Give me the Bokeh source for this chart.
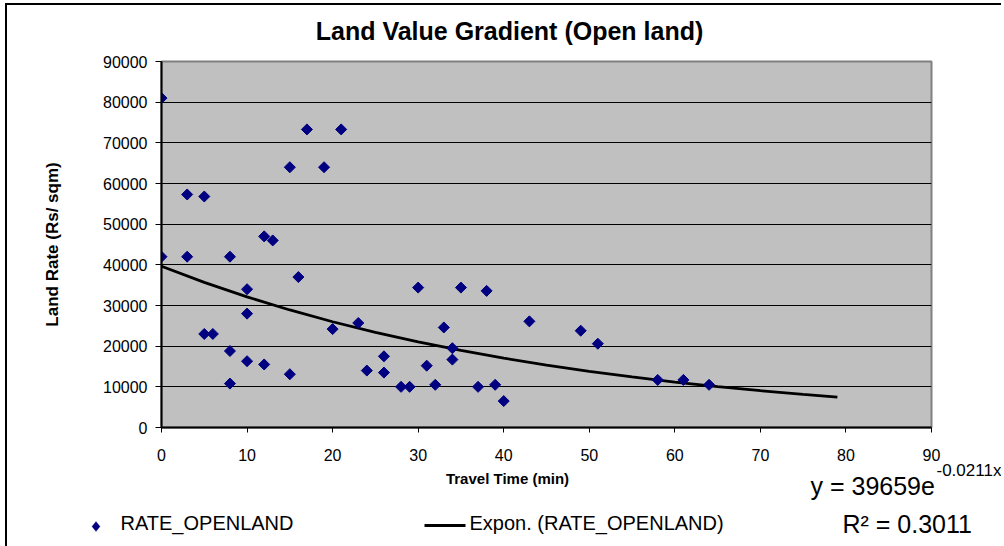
from bokeh.plotting import figure
from bokeh.models import (Range1d, FixedTicker, Grid, Label, BoxAnnotation, PolyAnnotation)
from bokeh.embed import file_html
from bokeh.resources import INLINE
import math

# ---- data ----
travel_time = [0, 0, 3, 3, 5, 5, 6, 8, 8, 8, 10, 10, 10, 12, 12, 13, 15, 15, 16, 17,
               19, 20, 21, 23, 24, 26, 26, 28, 29, 30, 31, 32, 33, 34, 34, 35, 37, 38,
               39, 40, 43, 49, 51, 58, 61, 64]
land_rate = [81000, 42000, 57300, 42000, 56800, 23000, 23000, 42000, 18800, 10800,
             34000, 28000, 16300, 47000, 15500, 46000, 64000, 13100, 37000, 73300,
             64000, 24200, 73300, 25700, 14000, 17500, 13500, 10000, 10000, 34400,
             15200, 10500, 24600, 19500, 16700, 34400, 10000, 33600, 10500, 6500,
             26100, 23800, 20600, 11700, 11700, 10500]
# exponential trendline values as drawn (y = 39659 e^-0.0211x)
trend_x = [0, 5, 10, 15, 20, 25, 30, 35, 40, 45, 50, 55, 60, 65, 70, 75, 79]
trend_y = [39659, 35690, 32115, 28900, 26005, 23403, 21059, 18951, 17053, 15346,
           13809, 12426, 11182, 10063, 9055, 8148, 7488]
x_ticks = [0, 10, 20, 30, 40, 50, 60, 70, 80, 90]
y_ticks = [0, 10000, 20000, 30000, 40000, 50000, 60000, 70000, 80000, 90000]

FONT = "Liberation Sans"
NAVY = "#000080"


def strip(height, styles):
    f = figure(width=996, height=height, x_range=Range1d(0, 996), y_range=Range1d(0, height),
               min_border=0, min_border_left=0, min_border_right=0,
               min_border_top=0, min_border_bottom=0,
               x_axis_location=None, y_axis_location=None,
               output_backend="svg", toolbar_location=None, tools="")
    f.grid.visible = False
    f.outline_line_color = None
    f.background_fill_alpha = 0
    f.border_fill_alpha = 0
    f.styles = styles
    return f


def lab(fig, text, x, y, size, bold=False, align="left"):
    fig.add_layout(Label(text=text, x=x, y=y, x_units="screen", y_units="screen",
                         text_font=FONT, text_font_size=size,
                         text_font_style="bold" if bold else "normal",
                         text_align=align, text_baseline="middle", text_color="black"))


# ---------------- title strip ----------------
r = strip(45, {"margin-left": "5px", "margin-top": "3px",
               "border-top": "2px solid black", "border-left": "2px solid black"})
lab(r, "Land Value Gradient (Open land)", 502, 20, "25px", bold=True, align="center")

# ---------------- main chart ----------------
p = figure(frame_width=770, frame_height=366,
           min_border_left=154, min_border_right=72, min_border_top=13, min_border_bottom=42,
           x_range=Range1d(0, 90), y_range=Range1d(0, 90000),
           output_backend="svg", toolbar_location=None, tools="")
p.styles = {"margin-left": "5px", "border-left": "2px solid black"}

p.background_fill_color = "#C0C0C0"
p.border_fill_color = "white"
p.outline_line_color = "#808080"
p.outline_line_width = 2
p.xgrid.visible = False
p.ygrid.visible = False
p.add_layout(Grid(dimension=1, ticker=FixedTicker(ticks=y_ticks[1:-1]),
                  grid_line_color="black", grid_line_width=1))

for ax in (p.xaxis[0], p.yaxis[0]):
    ax.axis_line_color = "black"
    ax.axis_line_width = 2
    ax.major_tick_line_color = "black"
    ax.major_tick_in = 0
    ax.minor_tick_line_color = None
    ax.major_label_text_font = FONT
    ax.major_label_text_font_size = "16px"
    ax.major_label_text_color = "black"
p.xaxis.ticker = FixedTicker(ticks=x_ticks)
p.yaxis.ticker = FixedTicker(ticks=y_ticks)
p.xaxis.major_tick_out = 5
p.yaxis.major_tick_out = 6
p.xaxis.major_label_standoff = 16
p.yaxis.major_label_standoff = 8
p.yaxis.axis_label = "Land Rate (Rs/ sqm)"
p.yaxis.axis_label_text_font = FONT
p.yaxis.axis_label_text_font_size = "17px"
p.yaxis.axis_label_text_font_style = "bold"
p.yaxis.axis_label_text_color = "black"
p.yaxis.axis_label_standoff = 38

# trendline
p.line(trend_x, trend_y, line_color="black", line_width=2.8)
# points
p.scatter(travel_time, land_rate, marker="square", angle=math.pi / 4,
          size=7.8, fill_color=NAVY, line_color=NAVY)

# ---------------- lower strip: x title, legend, equation ----------------
q = strip(87, {"margin-left": "5px", "margin-top": "-10px", "border-left": "2px solid black"})

lab(q, "Travel Time (min)", 500, 68, "15px", bold=True, align="center")
lab(q, "y = 39659e", 803, 61, "25px")
lab(q, "-0.0211x", 929, 76, "17px")
lab(q, "R\u00b2 = 0.3011", 835, 23, "25px")

q.add_layout(PolyAnnotation(xs=[88.5, 92.5, 88.5, 84.5], ys=[25, 20, 15, 20],
                            xs_units="screen", ys_units="screen",
                            fill_color=NAVY, fill_alpha=1, line_color=NAVY))
q.add_layout(BoxAnnotation(left=417, right=458, top=22.4, bottom=19.6,
                           left_units="screen", right_units="screen",
                           top_units="screen", bottom_units="screen",
                           fill_color="black", fill_alpha=1, line_color=None))
lab(q, "RATE_OPENLAND", 113, 24, "20px")
lab(q, "Expon. (RATE_OPENLAND)", 462, 24, "20px")

open("out.html", "w").write(file_html([r, p, q], INLINE))
